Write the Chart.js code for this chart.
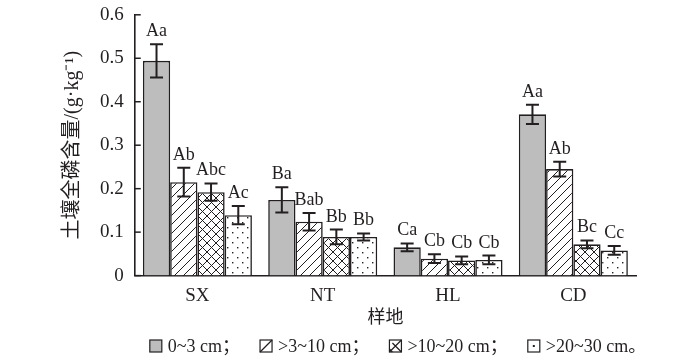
<!DOCTYPE html>
<html>
<head>
<meta charset="utf-8">
<script src="https://cdn.jsdelivr.net/npm/chart.js@4/dist/chart.umd.min.js"></script>
<style>
  html, body { margin: 0; padding: 0; background: #fff; }
  #wrap { width: 700px; height: 362px; }
</style>
</head>
<body>
<div id="wrap"><canvas id="c" width="700" height="362"></canvas></div>
<script>
// 样地
const sites = ["SX", "NT", "HL", "CD"];
const depths = ["0~3 cm", ">3~10 cm", ">10~20 cm", ">20~30 cm"];
const yTicks = [0, 0.1, 0.2, 0.3, 0.4, 0.5, 0.6];

// 均值
const tp_0_3 = [0.494, 0.174, 0.065, 0.371];
const tp_3_10 = [0.215, 0.124, 0.039, 0.245];
const tp_10_20 = [0.192, 0.089, 0.035, 0.072];
const tp_20_30 = [0.139, 0.089, 0.036, 0.058];

// 误差
const err_0_3 = [0.038, 0.029, 0.009, 0.022];
const err_3_10 = [0.033, 0.020, 0.010, 0.017];
const err_10_20 = [0.020, 0.017, 0.009, 0.009];
const err_20_30 = [0.021, 0.008, 0.010, 0.010];

// 显著性字母
const sig_0_3 = ["Aa", "Ba", "Ca", "Aa"];
const sig_3_10 = ["Ab", "Bab", "Cb", "Ab"];
const sig_10_20 = ["Abc", "Bb", "Cb", "Bc"];
const sig_20_30 = ["Ac", "Bb", "Cb", "Cc"];

const serif = '"Liberation Serif", "Noto Sans CJK SC", serif';
const ink = "#231f20";

function makePattern(kind) {
  const s = kind === "dots" ? 10 : 9;
  const p = document.createElement("canvas");
  p.width = s; p.height = s;
  const g = p.getContext("2d");
  g.fillStyle = "#fff";
  g.fillRect(0, 0, s, s);
  g.strokeStyle = ink;
  g.fillStyle = ink;
  g.lineWidth = 1;
  if (kind === "hatch" || kind === "cross") {
    g.beginPath();
    g.moveTo(-1, s + 1); g.lineTo(s + 1, -1);
    g.moveTo(-1, 1); g.lineTo(1, -1);
    g.moveTo(s - 1, s + 1); g.lineTo(s + 1, s - 1);
    g.stroke();
  }
  if (kind === "cross") {
    g.beginPath();
    g.moveTo(-1, -1); g.lineTo(s + 1, s + 1);
    g.moveTo(s - 1, -1); g.lineTo(s + 1, 1);
    g.moveTo(-1, s - 1); g.lineTo(1, s + 1);
    g.stroke();
  }
  if (kind === "dots") {
    g.fillRect(2, 2, 1.4, 1.4);
    g.fillRect(7, 7, 1.4, 1.4);
  }
  return document.getElementById("c").getContext("2d").createPattern(p, "repeat");
}

const fills = ["#bdbdbd", makePattern("hatch"), makePattern("cross"), makePattern("dots")];
const means = [tp_0_3, tp_3_10, tp_10_20, tp_20_30];
const errs = [err_0_3, err_3_10, err_10_20, err_20_30];
const sigs = [sig_0_3, sig_3_10, sig_10_20, sig_20_30];

const extras = {
  id: "extras",
  afterDatasetsDraw(chart) {
    const ctx = chart.ctx;
    const y = chart.scales.y;
    ctx.save();
    // error bars + letters
    chart.data.datasets.forEach((ds, i) => {
      const meta = chart.getDatasetMeta(i);
      meta.data.forEach((bar, j) => {
        const top = y.getPixelForValue(means[i][j] + errs[i][j]);
        const bot = y.getPixelForValue(means[i][j] - errs[i][j]);
        ctx.strokeStyle = ink;
        ctx.lineWidth = 2;
        ctx.beginPath();
        ctx.moveTo(bar.x, top); ctx.lineTo(bar.x, bot);
        ctx.moveTo(bar.x - 6.5, top); ctx.lineTo(bar.x + 6.5, top);
        ctx.moveTo(bar.x - 6.5, bot); ctx.lineTo(bar.x + 6.5, bot);
        ctx.stroke();
        ctx.fillStyle = ink;
        ctx.font = "18px " + serif;
        ctx.textAlign = "center";
        ctx.textBaseline = "alphabetic";
        ctx.fillText(sigs[i][j], bar.x, top - 8);
      });
    });
    // inward y ticks
    const left = chart.chartArea.left;
    ctx.lineWidth = 1.5;
    yTicks.forEach((v) => {
      const py = y.getPixelForValue(v);
      ctx.beginPath();
      ctx.moveTo(left, py); ctx.lineTo(left + 6, py);
      ctx.stroke();
    });
    ctx.restore();
  },
  afterDraw(chart) {
    // legend
    const ctx = chart.ctx;
    ctx.save();
    ctx.font = "18px " + serif;
    const texts = depths.map((d, i) => d + (i < depths.length - 1 ? "；" : "。"));
    const box = 12, gap1 = 6, gap2 = 20;
    let total = 0;
    texts.forEach((t) => { total += box + gap1 + ctx.measureText(t).width + gap2; });
    total -= gap2;
    let x = 398 - total / 2;
    const cy = 346;
    texts.forEach((t, i) => {
      const bx = x, by = cy - box / 2;
      ctx.fillStyle = i === 0 ? "#bdbdbd" : "#fff";
      ctx.fillRect(bx, by, box, box);
      ctx.strokeStyle = ink;
      ctx.lineWidth = 1.2;
      ctx.strokeRect(bx, by, box, box);
      ctx.beginPath();
      if (i === 1 || i === 2) { ctx.moveTo(bx, by + box); ctx.lineTo(bx + box, by); }
      if (i === 2) { ctx.moveTo(bx + 3, by + 3); ctx.lineTo(bx + box, by + box); ctx.moveTo(bx, by + box - 3); ctx.lineTo(bx + 3, by + box); }
      ctx.stroke();
      if (i === 3) { ctx.fillStyle = ink; ctx.fillRect(bx + box / 2 - 1, by + box / 2 - 1, 2, 2); }
      ctx.fillStyle = ink;
      ctx.textAlign = "left";
      ctx.textBaseline = "middle";
      ctx.fillText(t, bx + box + gap1, cy + 1);
      x += box + gap1 + ctx.measureText(t).width + gap2;
    });
    ctx.restore();
  }
};

new Chart(document.getElementById("c"), {
  type: "bar",
  data: {
    labels: sites,
    datasets: depths.map((d, i) => ({
      label: d,
      data: means[i],
      backgroundColor: fills[i],
      borderColor: ink,
      borderWidth: 1.6,
      borderSkipped: "bottom",
      barPercentage: 1,
      categoryPercentage: 0.87
    }))
  },
  options: {
    responsive: false,
    animation: false,
    devicePixelRatio: 1,
    layout: { padding: { left: 61, right: 64, top: 0, bottom: 33 } },
    plugins: { legend: { display: false }, tooltip: { enabled: false } },
    scales: {
      x: {
        grid: { display: false, drawTicks: false },
        border: { color: ink, width: 1.6 },
        ticks: { color: ink, font: { family: serif, size: 19 }, padding: 9 },
        title: { display: true, text: "样地", color: ink, font: { family: serif, size: 18 }, padding: { top: -9, bottom: 0 } }
      },
      y: {
        min: 0, max: 0.6,
        grid: { display: false, drawTicks: false },
        border: { color: ink, width: 1.6 },
        ticks: {
          stepSize: 0.1, color: ink, padding: 11,
          font: { family: serif, size: 19, lineHeight: 0.4 },
          callback: (v) => (v === 0 ? "0" : v.toFixed(1))
        },
        title: { display: true, text: "土壤全磷含量/(g·kg⁻¹)", color: ink, font: { family: serif, size: 20 }, padding: { top: 0, bottom: 4 } }
      }
    }
  },
  plugins: [extras]
});
</script>
</body>
</html>
